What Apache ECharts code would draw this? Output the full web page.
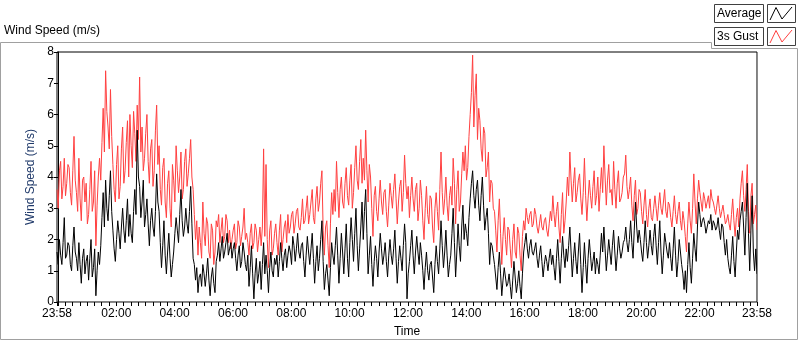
<!DOCTYPE html>
<html>
<head>
<meta charset="utf-8">
<title>Wind Speed</title>
<script src="https://cdn.jsdelivr.net/npm/echarts@6/dist/echarts.min.js"></script>
<style>
  html, body { margin: 0; padding: 0; background: #fff; }
  #main { width: 800px; height: 342px; }
</style>
</head>
<body>
<div id="main"></div>
<script>
// minutes relative to 00:00, first sample at 23:58 of the previous day.
// main samples every 5 min, "Mid" samples sit 2.5 min after each main sample
var startMin = -2;
var stepMin = 5;

// 3s gust (m/s)
var gust = [
  3.6, 4.2, 3.3, 4.6, 3.8, 4.3,   3.1, 5.3, 3.5, 4.6, 2.6, 4.0,
  3.8, 2.8, 4.5, 3.2, 1.8, 4.0,   3.9, 6.2, 7.4, 5.6, 6.8, 4.4,
  3.2, 5.0, 3.7, 5.6, 4.2, 5.8,   6.0, 4.3, 5.4, 6.3, 7.2, 5.6,
  4.6, 6.0, 3.8, 5.2, 4.2, 6.3,   5.0, 3.1, 4.6, 2.7, 4.2, 2.4,
  3.9, 5.0, 3.5, 4.8, 3.6, 4.9,   4.1, 5.2, 3.6, 2.0, 1.5, 1.9,
  3.2, 1.8, 2.5, 1.4, 2.3, 1.6,   2.4, 1.9, 2.7, 2.1, 2.6, 2.3,
  2.0, 2.5, 1.9, 2.4, 2.1, 3.0,   2.2, 1.5, 2.5, 1.9, 2.3, 2.0,
  1.8, 4.9, 4.4, 1.1, 2.6, 1.7,   2.5, 1.5, 2.8, 2.0, 2.6, 2.8,
  2.4, 2.9, 2.5, 3.0, 2.3, 3.3,   2.6, 3.4, 2.8, 3.6, 2.5, 3.7,
  3.2, 4.2, 1.5, 2.6, 1.1, 3.5,   3.6, 4.5, 2.7, 4.0, 3.0, 4.3,
  3.1, 4.4, 3.5, 5.0, 3.6, 5.2,   4.6, 5.5, 3.2, 4.0, 2.1, 3.7,
  2.6, 3.9, 2.8, 3.6, 2.4, 3.8,   3.0, 4.1, 2.5, 3.7, 2.9, 4.7,
  3.3, 2.7, 4.0, 2.9, 3.8, 3.0,   3.4, 2.0, 3.7, 2.5, 3.3, 1.9,
  3.5, 2.3, 4.8, 2.8, 4.0, 2.6,   3.7, 4.6, 2.5, 4.2, 3.2, 4.8,
  5.0, 4.3, 6.0, 7.9, 6.6, 5.2,   5.8, 4.5, 5.4, 4.3, 3.2, 3.8,
  2.9, 1.6, 3.3, 1.2, 2.7, 1.5,   2.3, 1.1, 2.5, 1.4, 2.2, 1.0,
  2.6, 3.0, 2.5, 2.9, 2.5, 2.8,   2.2, 2.8, 2.3, 2.7, 2.1, 2.9,
  3.4, 2.4, 3.2, 1.9, 3.5, 2.6,   4.0, 4.8, 3.2, 4.3, 3.5, 4.1,
  2.8, 4.6, 2.6, 3.9, 3.0, 4.2,   3.4, 2.9, 4.3, 5.0, 3.1, 4.4,
  3.6, 4.5, 3.0, 4.2, 3.3, 4.0,   4.7, 3.3, 4.0, 2.6, 3.9, 3.0,
  3.5, 2.5, 3.6, 2.4, 3.3, 2.6,   3.4, 2.6, 3.5, 2.8, 3.6, 2.7,
  3.1, 2.4, 3.4, 2.5, 3.2, 2.3,   2.6, 1.6, 3.2, 2.2, 4.1, 2.5,
  3.9, 3.2, 3.5, 3.0, 3.4, 3.6,   3.2, 2.8, 3.4, 2.7, 3.1, 2.5,
  2.8, 2.3, 3.3, 2.1, 3.0, 3.3,   4.2, 2.9, 4.4, 2.2, 3.8, 2.8,
  2.3
];
var gustMid = [
  3.0, 4.5, 3.7, 3.4, 4.4, 3.5,   4.2, 3.9, 2.9, 3.3, 3.9, 3.2,
  2.5, 3.6, 2.9, 4.2, 3.1, 4.6,   5.1, 4.8, 6.1, 4.9, 5.3, 3.6,
  4.4, 3.3, 4.9, 3.8, 5.1, 4.0,   5.0, 6.1, 4.5, 5.2, 4.8, 4.2,
  5.4, 4.5, 4.9, 3.7, 5.5, 4.4,   3.6, 4.3, 3.2, 3.8, 3.0, 4.4,
  3.2, 4.2, 4.0, 3.3, 4.5, 3.7,   4.6, 4.0, 2.8, 2.6, 2.4, 1.4,
  2.2, 2.7, 1.6, 2.5, 1.2, 2.6,   2.8, 2.3, 1.9, 2.8, 1.9, 1.7,
  2.3, 1.7, 2.6, 1.8, 2.4, 2.0,   1.9, 2.2, 1.7, 2.5, 1.6, 2.4,
  2.4, 2.1, 2.0, 2.3, 1.5, 2.2,   1.9, 2.3, 1.6, 2.4, 1.9, 2.2,
  2.8, 2.2, 2.9, 2.4, 2.7, 2.5,   3.0, 2.5, 3.2, 2.7, 3.3, 2.9,
  3.8, 2.3, 2.4, 1.8, 2.5, 2.8,   2.9, 3.5, 3.6, 3.2, 3.8, 3.4,
  3.9, 3.0, 4.3, 3.9, 4.5, 3.8,   3.9, 4.2, 4.4, 3.0, 3.4, 2.9,
  3.3, 3.2, 3.5, 2.9, 3.1, 3.4,   3.6, 3.3, 3.2, 3.9, 3.5, 3.8,
  3.7, 3.4, 3.3, 3.6, 2.6, 3.9,   2.6, 3.0, 2.8, 3.4, 2.4, 3.0,
  2.9, 3.6, 3.5, 3.3, 3.1, 3.4,   3.1, 3.8, 3.6, 2.9, 4.1, 4.2,
  3.9, 5.3, 6.7, 5.6, 7.3, 6.2,   4.9, 5.6, 4.0, 4.8, 3.9, 3.0,
  2.3, 2.6, 2.2, 2.1, 2.0, 2.4,   1.7, 2.0, 1.6, 2.4, 1.5, 2.1,
  2.3, 2.7, 2.8, 2.4, 3.0, 2.4,   2.5, 2.4, 2.6, 2.3, 2.5, 2.6,
  2.8, 2.9, 2.4, 2.8, 2.2, 3.2,   3.4, 3.9, 3.8, 3.2, 3.9, 3.3,
  3.5, 3.4, 3.3, 3.4, 3.7, 3.1,   4.0, 3.6, 3.5, 4.0, 3.9, 3.5,
  3.1, 3.6, 3.8, 3.2, 3.5, 4.1,   3.7, 3.6, 3.1, 3.4, 2.8, 3.6,
  2.9, 3.1, 2.8, 3.0, 2.7, 3.0,   3.0, 3.1, 3.0, 3.2, 2.9, 3.2,
  2.7, 2.9, 2.8, 2.9, 2.6, 2.9,   2.1, 2.5, 2.6, 3.0, 3.2, 3.3,
  3.5, 2.9, 3.3, 3.2, 3.0, 3.3,   3.0, 3.1, 3.0, 2.9, 2.8, 2.6,
  2.5, 2.8, 2.6, 2.7, 2.4, 3.8,   3.4, 3.6, 2.9, 3.4, 2.5, 3.1
];

// average (m/s)
var average = [
  1.6, 2.0, 1.2, 2.7, 1.5, 1.8,   1.0, 2.4, 1.4, 1.9, 0.6, 1.7,
  1.3, 0.7, 2.0, 1.1, 0.2, 1.6,   1.8, 3.5, 3.9, 2.6, 4.2, 2.3,
  1.3, 2.6, 1.7, 3.0, 1.9, 3.3,   2.8, 1.9, 3.6, 5.5, 3.7, 3.2,
  2.4, 3.3, 1.8, 3.0, 2.1, 4.1,   2.9, 1.1, 2.6, 0.9, 2.2, 0.8,
  1.6, 2.7, 1.9, 3.6, 2.1, 3.0,   2.2, 3.7, 1.4, 0.7, 0.3, 0.9,
  1.2, 0.5, 1.4, 0.2, 1.1, 0.3,   1.5, 1.3, 2.1, 1.6, 2.2, 1.7,
  1.4, 1.9, 1.0, 1.8, 1.3, 1.6,   1.0, 0.5, 1.8, 0.1, 1.4, 0.9,
  0.4, 1.9, 1.5, 0.3, 1.6, 0.8,   1.2, 0.8, 1.9, 1.0, 1.7, 1.5,
  1.6, 2.1, 1.3, 2.2, 1.4, 1.9,   0.8, 2.1, 1.2, 2.2, 0.6, 1.8,
  1.4, 2.6, 0.4, 1.2, 0.2, 1.9,   1.2, 2.4, 0.6, 2.2, 0.9, 2.5,
  0.8, 2.7, 1.3, 3.0, 1.0, 2.4,   2.0, 3.6, 0.9, 2.1, 0.5, 1.8,
  0.8, 2.2, 1.2, 1.9, 0.8, 2.0,   1.2, 2.3, 0.6, 1.8, 1.0, 2.5,
  0.1, 1.3, 2.3, 0.9, 2.1, 1.2,   1.5, 0.4, 1.6, 0.7, 1.3, 0.3,
  1.8, 0.9, 2.6, 1.1, 2.3, 0.8,   1.5, 3.0, 0.8, 2.5, 1.3, 3.1,
  2.5, 1.8, 3.3, 4.2, 3.0, 3.9,   2.6, 4.0, 2.3, 3.0, 1.2, 1.8,
  1.2, 0.4, 1.6, 0.2, 1.1, 0.5,   0.9, 0.1, 1.3, 0.3, 1.0, 0.1,
  1.6, 2.2, 1.4, 2.0, 1.5, 1.9,   1.1, 1.8, 0.8, 1.5, 1.0, 1.7,
  1.5, 0.7, 2.0, 0.6, 2.1, 1.1,   1.3, 2.4, 0.8, 1.9, 0.9, 2.2,
  0.3, 1.9, 0.6, 2.0, 1.0, 1.6,   1.4, 0.9, 2.2, 2.4, 1.0, 2.0,
  1.2, 2.3, 1.0, 2.1, 1.4, 1.9,   2.4, 1.6, 2.6, 1.4, 3.2, 1.9,
  2.0, 1.3, 2.6, 1.4, 2.3, 1.5,   2.5, 1.2, 2.6, 0.9, 2.2, 1.6,
  1.9, 1.0, 2.4, 0.8, 2.0, 1.2,   0.4, 0.3, 1.9, 0.6, 2.2, 1.3,
  3.2, 2.4, 2.7, 2.2, 2.6, 2.8,   2.6, 2.3, 2.7, 2.0, 2.4, 1.5,
  1.4, 0.9, 2.1, 0.8, 2.3, 2.6,   3.2, 1.5, 3.8, 1.0, 3.4, 1.0,
  0.9
];
var averageMid = [
  1.2, 1.5, 1.9, 1.4, 1.9, 1.2,   1.8, 1.6, 1.0, 1.2, 1.4, 0.9,
  1.5, 1.4, 0.8, 1.7, 1.0, 1.2,   2.7, 2.4, 3.0, 3.4, 2.9, 1.7,
  2.0, 2.2, 2.4, 2.3, 2.6, 2.1,   2.2, 2.9, 2.8, 4.0, 2.7, 3.9,
  2.8, 2.5, 2.6, 2.4, 2.9, 3.2,   1.9, 1.8, 1.5, 1.6, 1.4, 1.2,
  2.2, 2.3, 2.8, 2.6, 2.4, 2.5,   2.9, 2.5, 1.2, 1.1, 0.8, 0.5,
  0.9, 0.9, 0.7, 0.8, 0.6, 1.3,   1.9, 1.7, 1.4, 1.9, 1.5, 1.9,
  1.7, 1.4, 1.5, 1.1, 1.9, 1.2,   1.5, 1.1, 0.9, 0.9, 0.6, 1.3,
  1.2, 0.9, 1.0, 1.1, 1.0, 1.4,   1.5, 1.3, 1.4, 1.5, 1.1, 1.8,
  1.2, 1.8, 1.7, 1.6, 1.8, 1.3,   1.5, 1.6, 1.7, 1.4, 1.3, 1.0,
  2.0, 1.3, 0.9, 0.7, 1.1, 1.5,   1.8, 1.5, 1.4, 1.6, 1.7, 1.4,
  1.9, 2.0, 2.2, 1.8, 1.7, 3.2,   2.9, 2.2, 1.5, 1.2, 1.3, 1.4,
  1.6, 1.7, 1.5, 1.3, 1.5, 1.5,   1.7, 1.4, 1.3, 1.4, 1.8, 1.9,
  0.9, 1.8, 1.5, 1.6, 1.6, 1.9,   1.0, 1.1, 1.0, 1.2, 0.8, 1.2,
  1.3, 1.7, 1.8, 1.6, 1.5, 1.2,   2.2, 1.9, 1.6, 1.8, 2.4, 2.0,
  2.2, 2.7, 3.8, 3.4, 3.6, 3.1,   3.4, 3.1, 2.7, 2.2, 1.9, 1.5,
  0.8, 1.1, 0.9, 0.7, 0.8, 0.6,   0.5, 0.7, 0.8, 0.6, 0.5, 0.9,
  1.9, 1.7, 1.8, 1.6, 1.7, 1.4,   1.5, 1.3, 1.2, 1.3, 1.4, 1.2,
  1.1, 1.4, 1.3, 1.4, 1.5, 1.7,   1.8, 1.6, 1.4, 1.3, 1.6, 1.2,
  1.1, 1.2, 1.4, 1.5, 1.3, 0.9,   1.2, 1.5, 1.6, 1.7, 1.5, 1.6,
  1.8, 1.6, 1.5, 1.7, 1.6, 2.0,   1.9, 2.0, 1.9, 2.3, 2.4, 2.3,
  1.6, 1.9, 1.9, 1.8, 1.8, 2.1,   1.8, 1.9, 1.6, 1.5, 1.9, 1.4,
  1.4, 1.7, 1.5, 1.3, 1.6, 0.9,   1.0, 1.2, 1.1, 1.4, 1.7, 2.4,
  2.8, 2.6, 2.5, 2.4, 2.5, 2.3,   2.5, 2.4, 2.3, 2.5, 1.9, 2.0,
  1.1, 1.5, 1.3, 1.6, 2.0, 2.9,   2.4, 2.7, 2.2, 2.3, 1.6, 1.7
];

// x axis labels
var tickValues = [-2, 120, 240, 360, 480, 600, 720, 840, 960, 1080, 1200, 1320, 1438];
var tickLabels = ['23:58', '02:00', '04:00', '06:00', '08:00', '10:00', '12:00',
                  '14:00', '16:00', '18:00', '20:00', '22:00', '23:58'];

function pairs(vals, mids) {
  var out = [];
  for (var i = 0; i < vals.length; i++) {
    var t = startMin + i * stepMin;
    out.push([t, vals[i]]);
    if (i < mids.length) out.push([t + stepMin / 2, mids[i]]);
  }
  return out;
}

// small ticks every quarter hour
var minorTicks = [-2];
for (var m = 0; m < 1438; m += 15) minorTicks.push(m);
minorTicks.push(1438);

var font = 'Liberation Sans, Arial, sans-serif';
var frameGray = '#a0a0a0';

var myChart = echarts.init(document.getElementById('main'), null, { renderer: 'canvas' });

var option = {
  animation: false,
  backgroundColor: '#ffffff',
  textStyle: { fontFamily: font },
  grid: {
    left: 57, right: 43, top: 52, bottom: 40,
    show: true, borderColor: '#000', borderWidth: 1, backgroundColor: '#fff',
    outerBoundsMode: 'none'
  },
  xAxis: {
    type: 'value',
    min: -2,
    max: 1438,
    name: 'Time',
    nameLocation: 'middle',
    nameGap: 24,
    nameTextStyle: { color: '#000', fontSize: 12, fontFamily: font },
    axisLine: { show: true, lineStyle: { color: '#8a8a8a', width: 1 } },
    axisTick: { show: true, length: 4, inside: false, customValues: minorTicks, lineStyle: { color: '#000' } },
    axisLabel: {
      customValues: tickValues,
      color: '#000', fontSize: 12, fontFamily: font, margin: 6,
      formatter: function (v) {
        var i = tickValues.indexOf(v);
        return i >= 0 ? tickLabels[i] : '';
      }
    },
    splitLine: { show: false }
  },
  yAxis: {
    type: 'value',
    min: 0, max: 8, interval: 1,
    name: 'Wind Speed (m/s)',
    nameLocation: 'middle',
    nameGap: 20,
    nameTextStyle: { color: '#203a6a', fontSize: 12, fontFamily: font },
    axisLine: { show: true, lineStyle: { color: '#000', width: 1 } },
    axisTick: { show: true, length: 4, lineStyle: { color: '#000' } },
    axisLabel: { color: '#000', fontSize: 12, fontFamily: font, margin: 3 },
    splitLine: { show: false }
  },
  series: [
    {
      name: '3s Gust', type: 'line', data: pairs(gust, gustMid),
      showSymbol: false, symbol: 'none', sampling: null,
      lineStyle: { color: '#ff4040', width: 1 }, z: 2
    },
    {
      name: 'Average', type: 'line', data: pairs(average, averageMid),
      showSymbol: false, symbol: 'none', sampling: null,
      lineStyle: { color: '#000000', width: 1 }, z: 3
    }
  ],
  graphic: [
    // outer frame
    { type: 'polyline', silent: true, z: 10,
      shape: { points: [[0.5, 339.5], [0.5, 42.5], [711.5, 42.5], [711.5, 48.5], [797.5, 48.5], [797.5, 339.5], [0.5, 339.5]] },
      style: { stroke: frameGray, lineWidth: 1, fill: null } },
    // right edge of plot is gray
    { type: 'line', silent: true, z: 10,
      shape: { x1: 757.5, y1: 52, x2: 757.5, y2: 302 },
      style: { stroke: '#8a8a8a', lineWidth: 1 } },
    // chart title
    { type: 'text', left: 4, top: 25, silent: true,
      style: { text: 'Wind Speed (m/s)', font: '12px ' + font, fill: '#000' } },
    // legend: Average
    { type: 'rect', silent: true, z: 11, shape: { x: 714.5, y: 4.5, width: 49, height: 18 },
      style: { fill: '#fff', stroke: '#404040', lineWidth: 1 } },
    { type: 'text', silent: true, z: 12, x: 717, y: 14,
      style: { text: 'Average', font: '12px ' + font, fill: '#000', verticalAlign: 'middle' } },
    { type: 'rect', silent: true, z: 11, shape: { x: 767.5, y: 4.5, width: 28, height: 18 },
      style: { fill: '#fff', stroke: '#404040', lineWidth: 1 } },
    { type: 'polyline', silent: true, z: 12,
      shape: { points: [[770, 20], [776, 7.5], [782, 19], [792, 7]] },
      style: { stroke: '#000', lineWidth: 1, fill: null } },
    // legend: 3s Gust
    { type: 'rect', silent: true, z: 11, shape: { x: 714.5, y: 27.5, width: 49, height: 18 },
      style: { fill: '#fff', stroke: '#404040', lineWidth: 1 } },
    { type: 'text', silent: true, z: 12, x: 717, y: 37,
      style: { text: '3s Gust', font: '12px ' + font, fill: '#000', verticalAlign: 'middle' } },
    { type: 'rect', silent: true, z: 11, shape: { x: 767.5, y: 27.5, width: 28, height: 18 },
      style: { fill: '#fff', stroke: '#404040', lineWidth: 1 } },
    { type: 'polyline', silent: true, z: 12,
      shape: { points: [[770, 43], [776, 30.5], [782, 42], [792, 30]] },
      style: { stroke: '#ff4040', lineWidth: 1, fill: null } }
  ]
};

myChart.setOption(option);
</script>
</body>
</html>
